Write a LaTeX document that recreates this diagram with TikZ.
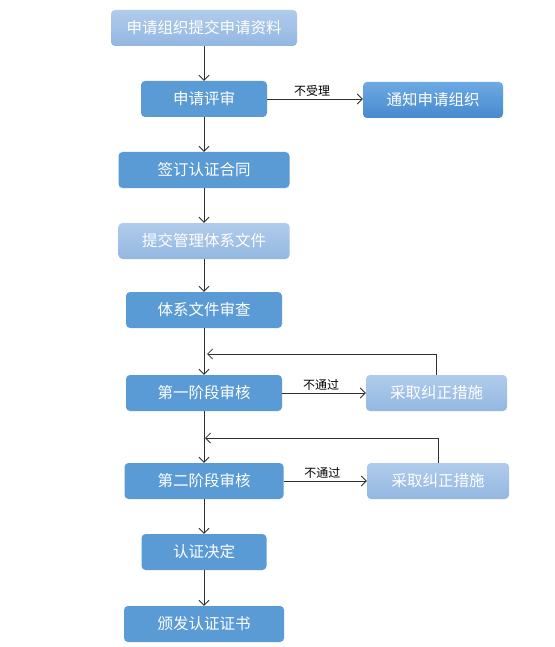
\documentclass[tikz,border=0pt]{standalone}
\usepackage{fontspec}
\setmainfont{Noto Sans CJK SC}
\usetikzlibrary{arrows.meta}
\definecolor{midblue}{HTML}{5B9BD5}
\definecolor{lighttop}{HTML}{B0CCEC}
\definecolor{lightbot}{HTML}{93B7E1}
\definecolor{ntop}{HTML}{6EAAE3}
\definecolor{nbot}{HTML}{4689CE}
\definecolor{linec}{HTML}{303030}
\begin{document}
\begin{tikzpicture}[x=1pt,y=-1pt,
  box/.style={rounded corners=4pt, minimum height=36pt, inner sep=0pt, text=white, font=\fontsize{15.5}{16}\selectfont},
  midbox/.style={box, fill=midblue},
  lightbox/.style={box, top color=lighttop, bottom color=lightbot},
  notebox/.style={box, top color=ntop, bottom color=nbot},
  arr/.style={draw=linec, line width=0.8pt, -{Straight Barb[length=5pt,width=10pt]}},
  lbl/.style={font=\fontsize{12}{13}\selectfont, text=black, inner sep=1pt}]
\useasboundingbox[fill=white] (0,0) rectangle (554,647);
\node[lightbox, minimum width=186pt] (b1) at (204,28) {申请组织提交申请资料};
\node[midbox, minimum width=126pt] (b2) at (204,99) {申请评审};
\node[notebox, minimum width=140pt] (n) at (433,100) {通知申请组织};
\node[midbox, minimum width=171pt] (b3) at (204,170) {签订认证合同};
\node[lightbox, minimum width=171pt] (b4) at (204,241) {提交管理体系文件};
\node[midbox, minimum width=156pt] (b5) at (204,310) {体系文件审查};
\node[midbox, minimum width=156pt] (b6) at (204,393) {第一阶段审核};
\node[lightbox, minimum width=141pt] (c1) at (436.5,393) {采取纠正措施};
\node[midbox, minimum width=159pt] (b7) at (204,481) {第二阶段审核};
\node[lightbox, minimum width=142pt] (c2) at (438,481) {采取纠正措施};
\node[midbox, minimum width=125pt] (b8) at (204,552) {认证决定};
\node[midbox, minimum width=160pt] (b9) at (204,624) {颁发认证证书};
\draw[arr] (b1) -- (b2);
\draw[arr] (b2) -- (b3);
\draw[arr] (b3) -- (b4);
\draw[arr] (b4) -- (b5);
\draw[arr] (b5) -- (b6);
\draw[arr] (b6) -- (b7);
\draw[arr] (b7) -- (b8);
\draw[arr] (b8) -- (b9);
\draw[arr] (b2.east) -- (b2.east -| n.west) node[lbl, midway, above=1pt, xshift=-3pt] {不受理};
\draw[arr] (b6.east) -- (b6.east -| c1.west) node[lbl, midway, above=1pt, xshift=-3pt] {不通过};
\draw[arr] (b7.east) -- (b7.east -| c2.west) node[lbl, midway, above=1pt, xshift=-3pt] {不通过};
\coordinate (f1) at (207,354);
\coordinate (f2) at (205,438);
\draw[arr] (c1.north) |- (f1);
\draw[arr] (c2.north) |- (f2);
\end{tikzpicture}
\end{document}
